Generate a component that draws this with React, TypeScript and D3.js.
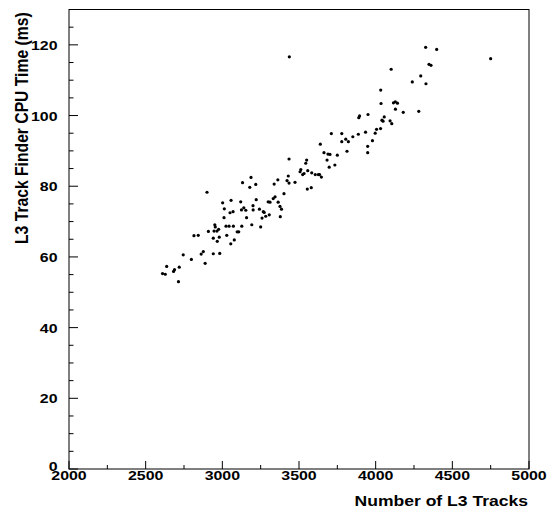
import * as d3 from "d3";

// number of L3 tracks per event
const tracks = [
  2610, 2628, 2637, 2682, 2688, 2719, 2714, 2745, 2798, 2815, 2843, 2862, 2876, 2888, 2909,
  2941, 2941, 2951, 2954, 2946, 2965, 2976, 2967, 2980, 2983, 3002, 3013, 3011, 3024, 3044,
  3072, 3029, 3050, 3070, 3055, 3078, 3097, 3107, 3120, 3125, 3140, 3153, 3127, 3158, 3192,
  3200, 3201, 3187, 3179, 3218, 3221, 3242, 3267, 3273, 3259, 3283, 3306, 3250, 3299, 3311,
  3332, 3344, 3364, 3376, 3386, 3378, 3338, 3362, 3402, 3422, 3430, 3435, 3435, 3474, 3507,
  3512, 3524, 3533, 3544, 3550, 3557, 3583, 3606, 3626, 3634, 3646, 3554, 3580, 3663, 3689,
  3702, 3683, 3697, 3734, 3750, 3639, 3711, 3779, 3779, 3805, 3822, 3813, 3851, 3887, 3890,
  3895, 3950, 3934, 3948, 3948, 3979, 3997, 4006, 4032, 4041, 4048, 4056, 4035, 4033, 4094,
  4105, 4116, 4128, 4142, 4129, 4101, 4180, 4239, 4281, 4294, 4328, 4326, 4398, 4348, 4361,
  4750, 3437, 2900, 3057, 3132,
];

// finder cpu time (ms)
const cpuTime = [
  55.3, 55.1, 57.3, 55.9, 56.4, 57.1, 53.0, 60.6, 59.3, 66.0, 66.1, 60.8, 61.5, 58.2, 67.2,
  65.3, 60.9, 69.1, 68.5, 67.3, 67.3, 67.8, 64.4, 65.6, 61.0, 75.3, 73.6, 71.1, 68.7, 68.7,
  68.7, 66.1, 72.5, 72.8, 63.7, 64.8, 67.1, 67.1, 75.6, 73.3, 73.9, 73.2, 68.7, 71.1, 69.1,
  74.5, 73.3, 82.5, 79.7, 80.5, 76.2, 73.5, 72.8, 72.6, 71.0, 71.5, 71.9, 68.5, 75.6, 75.5,
  76.5, 77.0, 75.5, 74.3, 73.5, 71.4, 80.6, 81.8, 77.9, 81.6, 82.9, 80.9, 87.7, 81.1, 84.1,
  84.7, 83.3, 83.6, 86.5, 87.4, 84.4, 83.8, 83.3, 83.3, 83.3, 82.6, 79.2, 79.6, 89.5, 89.1,
  89.0, 87.4, 85.4, 86.0, 88.8, 91.9, 94.9, 94.9, 92.6, 93.3, 92.6, 89.9, 94.0, 94.7, 99.4,
  99.9, 100.3, 95.3, 91.3, 89.5, 92.9, 95.0, 96.1, 96.3, 98.7, 98.4, 99.6, 103.4, 107.2, 98.5,
  97.7, 103.6, 103.9, 103.5, 101.8, 113.1, 100.9, 109.5, 101.2, 111.2, 109.0, 119.3, 118.7, 114.5, 114.2,
  116.1, 116.6, 78.3, 76.0, 81.0,
];

const xMajor = [2000, 2500, 3000, 3500, 4000, 4500, 5000];
const yMajor = [0, 20, 40, 60, 80, 100, 120];

const W = 549;
const H = 516;
const FONT = "'Liberation Sans', Arial, Helvetica, sans-serif";

export default function App() {
  const x = d3.scaleLinear().domain([2000, 5000]).range([69, 529]);
  const y = d3.scaleLinear().domain([0, 130]).range([469, 9.5]);

  const xMinor = d3.range(2000, 5001, 250);
  const yMinor = d3.range(0, 131, 5);

  const [x0, x1] = x.range();
  const [y0, y1] = y.range();

  return (
    <svg
      width={W}
      height={H}
      style={{ position: "absolute", left: 0, top: 0, background: "#fff" }}
      fontFamily={FONT}
      fontWeight="bold"
    >
      {/* frame */}
      <rect x={x0} y={y1} width={x1 - x0} height={y0 - y1} fill="none" stroke="#000" strokeWidth={1} />

      {/* x ticks */}
      {xMinor.map((v) => (
        <line key={"xm" + v} x1={x(v)} x2={x(v)} y1={y0} y2={y0 - (v % 500 === 0 ? 8 : 4)} stroke="#000" />
      ))}
      {xMajor.map((v) => (
        <text
          key={"xl" + v}
          transform={`translate(${x(v)},480) scale(1.18,1)`}
          textAnchor="middle"
          fontSize={13.5}
          fill="#000"
        >
          {v}
        </text>
      ))}

      {/* y ticks */}
      {yMinor.map((v) => (
        <line key={"ym" + v} x1={x0} x2={x0 + (v % 20 === 0 ? 9 : 4.5)} y1={y(v)} y2={y(v)} stroke="#000" />
      ))}
      {yMajor.map((v) => (
        <text
          key={"yl" + v}
          transform={`translate(57.5,${y(v) + (v === 0 ? 2 : 5)}) scale(1.18,1)`}
          textAnchor="end"
          fontSize={13.5}
          fill="#000"
        >
          {v}
        </text>
      ))}

      {/* titles */}
      <text
        transform="translate(528,506) scale(1.17,1)"
        textAnchor="end"
        fontSize={15}
        fill="#000"
      >
        Number of L3 Tracks
      </text>
      <text
        transform="translate(28,244) scale(1.2,1) rotate(-90)"
        textAnchor="start"
        fontSize={15.7}
        fill="#000"
      >
        L3 Track Finder CPU Time (ms)
      </text>

      {/* points */}
      {tracks.map((t, i) => (
        <circle key={i} cx={x(t)} cy={y(cpuTime[i])} r={1.6} fill="#000" />
      ))}
    </svg>
  );
}
